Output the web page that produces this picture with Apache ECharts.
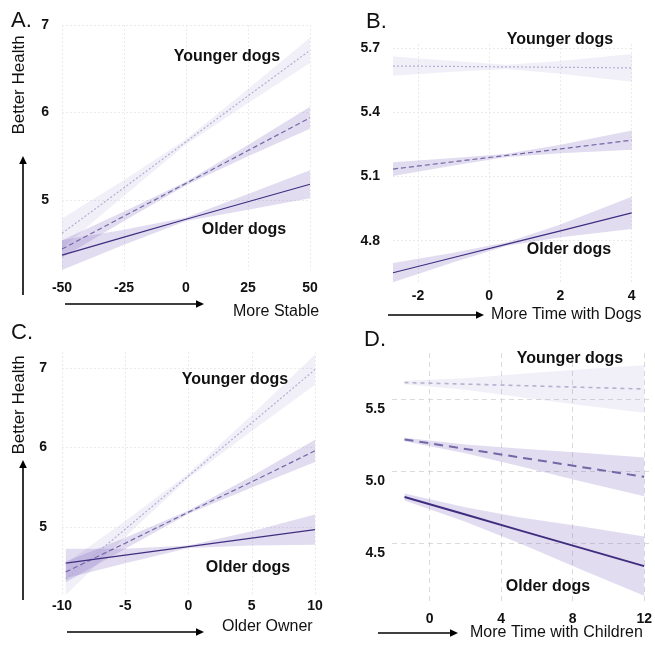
<!DOCTYPE html>
<html><head><meta charset="utf-8">
<script src="https://cdn.jsdelivr.net/npm/echarts@6/dist/echarts.min.js"></script>
<style>html,body{margin:0;padding:0;background:#fff}#c{width:655px;height:651px}</style>
</head><body><div id="c"></div>
<script>
// ---------- Panel A: More Stable ----------
const A_xTicks = [-50, -25, 0, 25, 50];
const A_yTicks = [5, 6, 7];
const A_x = [-50, -25, 0, 25, 50];
const A_young = [4.62, 5.14, 5.665, 6.19, 6.71];
const A_young_lo = [4.45, 5.05, 5.635, 6.11, 6.565];
const A_young_hi = [4.79, 5.23, 5.695, 6.27, 6.855];
const A_mid = [4.44, 4.815, 5.19, 5.565, 5.94];
const A_mid_lo = [4.34, 4.76, 5.17, 5.50, 5.815];
const A_mid_hi = [4.54, 4.87, 5.21, 5.63, 6.065];
const A_old = [4.37, 4.575, 4.78, 4.98, 5.18];
const A_old_lo = [4.20, 4.49, 4.76, 4.89, 5.02];
const A_old_hi = [4.54, 4.66, 4.80, 5.07, 5.34];

// ---------- Panel B: More Time with Dogs ----------
const B_xTicks = [-2, 0, 2, 4];
const B_yTicks = [4.8, 5.1, 5.4, 5.7];
const B_x = [-2.7, -1, 0.5, 2, 4];
const B_young = [5.617, 5.615, 5.613, 5.611, 5.608];
const B_young_lo = [5.572, 5.59, 5.603, 5.581, 5.543];
const B_young_hi = [5.662, 5.64, 5.623, 5.641, 5.673];
const B_mid = [5.135, 5.169, 5.199, 5.229, 5.27];
const B_mid_lo = [5.103, 5.151, 5.191, 5.209, 5.225];
const B_mid_hi = [5.167, 5.187, 5.207, 5.249, 5.315];
const B_old = [4.65, 4.721, 4.784, 4.846, 4.93];
const B_old_lo = [4.605, 4.699, 4.776, 4.816, 4.855];
const B_old_hi = [4.695, 4.743, 4.792, 4.876, 5.005];

// ---------- Panel C: Older Owner ----------
const C_xTicks = [-10, -5, 0, 5, 10];
const C_yTicks = [5, 6, 7];
const C_x = [-9.7, -5, 0, 5, 10];
const C_young = [4.35, 4.977, 5.645, 6.31, 6.98];
const C_young_lo = [4.15, 4.88, 5.615, 6.21, 6.79];
const C_young_hi = [4.55, 5.08, 5.675, 6.41, 7.17];
const C_mid = [4.44, 4.80, 5.19, 5.57, 5.96];
const C_mid_lo = [4.31, 4.73, 5.17, 5.50, 5.82];
const C_mid_hi = [4.57, 4.87, 5.21, 5.64, 6.10];
const C_old = [4.55, 4.65, 4.757, 4.864, 4.97];
const C_old_lo = [4.36, 4.55, 4.74, 4.77, 4.78];
const C_old_hi = [4.73, 4.73, 4.77, 4.95, 5.16];

// ---------- Panel D: More Time with Children ----------
const D_xTicks = [0, 4, 8, 12];
const D_yTicks = [4.5, 5.0, 5.5];
const D_x = [-1.4, 2, 5, 8.5, 12];
const D_young = [5.615, 5.604, 5.594, 5.582, 5.57];
const D_young_lo = [5.603, 5.564, 5.514, 5.457, 5.405];
const D_young_hi = [5.627, 5.644, 5.674, 5.707, 5.735];
const D_mid = [5.22, 5.154, 5.096, 5.028, 4.96];
const D_mid_lo = [5.208, 5.124, 5.036, 4.928, 4.825];
const D_mid_hi = [5.232, 5.184, 5.156, 5.128, 5.095];
const D_old = [4.82, 4.698, 4.59, 4.465, 4.34];
const D_old_lo = [4.795, 4.648, 4.50, 4.315, 4.135];
const D_old_hi = [4.845, 4.748, 4.68, 4.615, 4.545];

const FONT = '"Liberation Sans", Arial, Helvetica, sans-serif';
const C_OLD = '#3f2e80', C_MID = '#7467a6', C_YOUNG = '#b5aed3', C_YOUNG_D = '#b7b1cf';
const BAND_YOUNG = 'rgba(125,105,190,0.11)', BAND = 'rgba(125,105,190,0.23)';

const panels = [
  { grid: {left: 62, top: 25, width: 248, height: 245}, xMin: -50, xMax: 50, yMin: 4.2, yMax: 7.0,
    xTicks: A_xTicks, yTicks: A_yTicks, dec: 0, xm: 11, ym: 13, d: false,
    x: A_x, young: [A_young, A_young_lo, A_young_hi], mid: [A_mid, A_mid_lo, A_mid_hi], old: [A_old, A_old_lo, A_old_hi] },
  { grid: {left: 393, top: 44, width: 240.5, height: 239.4}, xMin: -2.7, xMax: 4.05, yMin: 4.6, yMax: 5.72,
    xTicks: B_xTicks, yTicks: B_yTicks, dec: 1, xm: 6, ym: 13, d: false,
    x: B_x, young: [B_young, B_young_lo, B_young_hi], mid: [B_mid, B_mid_lo, B_mid_hi], old: [B_old, B_old_lo, B_old_hi] },
  { grid: {left: 62, top: 352, width: 253, height: 243.8}, xMin: -10, xMax: 10, yMin: 4.14, yMax: 7.2,
    xTicks: C_xTicks, yTicks: C_yTicks, dec: 0, xm: 3, ym: 15, d: false,
    x: C_x, young: [C_young, C_young_lo, C_young_hi], mid: [C_mid, C_mid_lo, C_mid_hi], old: [C_old, C_old_lo, C_old_hi] },
  { grid: {left: 392, top: 353, width: 261, height: 252}, xMin: -2.1, xMax: 12.45, yMin: 4.07, yMax: 5.82,
    xTicks: D_xTicks, yTicks: D_yTicks, dec: 1, xm: 7, ym: 7, d: true,
    x: D_x, young: [D_young, D_young_lo, D_young_hi], mid: [D_mid, D_mid_lo, D_mid_hi], old: [D_old, D_old_lo, D_old_hi] }
];

const grids = [], xAxes = [], yAxes = [], series = [];

function band(gi, xs, lo, hi, color) {
  return {
    type: 'custom', xAxisIndex: gi, yAxisIndex: gi, silent: true, z: 1,
    data: [[xs[0], lo[0]]],
    renderItem: function (params, api) {
      const pts = [];
      for (let i = 0; i < xs.length; i++) pts.push(api.coord([xs[i], hi[i]]));
      for (let i = xs.length - 1; i >= 0; i--) pts.push(api.coord([xs[i], lo[i]]));
      return { type: 'polygon', shape: { points: pts }, style: { fill: color } };
    }
  };
}
function line(gi, xs, ys, color, width, dash, z) {
  return {
    type: 'line', xAxisIndex: gi, yAxisIndex: gi, silent: true, z: z,
    data: xs.map((x, i) => [x, ys[i]]), showSymbol: false, symbol: 'none',
    lineStyle: { color: color, width: width, type: dash }, animation: false
  };
}

panels.forEach((p, gi) => {
  grids.push(Object.assign({ containLabel: false }, p.grid));
  const gridLine = p.d
    ? { show: true, lineStyle: { color: '#dadada', width: 1, type: [5, 4] } }
    : { show: true, lineStyle: { color: '#ebebeb', width: 1, type: [2, 2] } };
  xAxes.push({
    type: 'value', gridIndex: gi, min: p.xMin, max: p.xMax,
    axisLine: { show: false },
    axisTick: { show: false, customValues: p.xTicks },
    axisLabel: { customValues: p.xTicks, margin: p.xm, fontFamily: FONT, fontSize: 14, fontWeight: 'bold', color: '#111' },
    splitLine: gridLine
  });
  const yl = { customValues: p.yTicks, margin: p.ym, fontFamily: FONT, fontSize: 14, fontWeight: 'bold', color: '#111',
    formatter: v => Number(v).toFixed(p.dec) };
  if (p.d) { yl.verticalAlign = 'top'; yl.padding = [3, 0, 0, 0]; }
  yAxes.push({
    type: 'value', gridIndex: gi, min: p.yMin, max: p.yMax,
    axisLine: { show: false },
    axisTick: { show: false, customValues: p.yTicks },
    axisLabel: yl,
    splitLine: gridLine
  });
  series.push(band(gi, p.x, p.young[1], p.young[2], BAND_YOUNG));
  series.push(band(gi, p.x, p.mid[1], p.mid[2], BAND));
  series.push(band(gi, p.x, p.old[1], p.old[2], BAND));
  if (p.d) {
    series.push(line(gi, p.x, p.young[0], C_YOUNG_D, 1.6, [4, 4], 3));
    series.push(line(gi, p.x, p.mid[0], C_MID, 2, [9, 6], 4));
    series.push(line(gi, p.x, p.old[0], C_OLD, 2, 'solid', 5));
  } else {
    series.push(line(gi, p.x, p.young[0], C_YOUNG, 1.2, [2, 2], 3));
    series.push(line(gi, p.x, p.mid[0], C_MID, 1.2, [5, 3], 4));
    series.push(line(gi, p.x, p.old[0], C_OLD, 1.2, 'solid', 5));
  }
});

function txt(x, y, text, size, opts) {
  opts = opts || {};
  return {
    type: 'text', x: x, y: y, rotation: opts.rot || 0, z: 10,
    style: { text: text, x: 0, y: 0, fill: '#111', font: (opts.bold ? 'bold ' : '') + size + 'px ' + FONT,
      align: opts.align || 'left', verticalAlign: 'middle', textAlign: opts.align || 'left', textVerticalAlign: 'middle' }
  };
}
function arrow(x1, y1, x2, y2) {
  const els = [];
  const horiz = y1 === y2;
  const L = 8, W = 3.8;
  if (horiz) {
    els.push({ type: 'line', shape: { x1: x1, y1: y1, x2: x2 - L, y2: y2 }, style: { stroke: '#000', lineWidth: 1.6 } });
    els.push({ type: 'polygon', shape: { points: [[x2, y2], [x2 - L, y2 - W], [x2 - L, y2 + W]] }, style: { fill: '#000' } });
  } else {
    els.push({ type: 'line', shape: { x1: x1, y1: y1, x2: x2, y2: y2 + L }, style: { stroke: '#000', lineWidth: 1.6 } });
    els.push({ type: 'polygon', shape: { points: [[x2, y2], [x2 - W, y2 + L], [x2 + W, y2 + L]] }, style: { fill: '#000' } });
  }
  return { type: 'group', z: 10, children: els };
}

const graphic = [
  txt(11, 21, 'A.', 22), txt(366, 22, 'B.', 22), txt(11, 333, 'C.', 22), txt(364, 340, 'D.', 22),
  txt(19, 85, 'Better Health', 17, { rot: Math.PI / 2, align: 'center' }),
  txt(19, 405, 'Better Health', 17, { rot: Math.PI / 2, align: 'center' }),
  arrow(23, 295, 23, 156), arrow(23, 600, 23, 460),
  arrow(65, 304, 204, 304), arrow(388, 315, 484, 315), arrow(67, 632, 204, 632), arrow(378, 633, 458, 633),
  txt(233, 312, 'More Stable', 16), txt(491, 315, 'More Time with Dogs', 16),
  txt(222, 627, 'Older Owner', 16), txt(470, 633, 'More Time with Children', 16),
  txt(227, 57, 'Younger dogs', 16, { bold: true, align: 'center' }),
  txt(244, 230, 'Older dogs', 16, { bold: true, align: 'center' }),
  txt(560, 40, 'Younger dogs', 16, { bold: true, align: 'center' }),
  txt(569, 250, 'Older dogs', 16, { bold: true, align: 'center' }),
  txt(235, 380, 'Younger dogs', 16, { bold: true, align: 'center' }),
  txt(248, 568, 'Older dogs', 16, { bold: true, align: 'center' }),
  txt(570, 359, 'Younger dogs', 16, { bold: true, align: 'center' }),
  txt(548, 587, 'Older dogs', 16, { bold: true, align: 'center' })
];

const chart = echarts.init(document.getElementById('c'), null, { renderer: 'canvas' });
chart.setOption({
  animation: false,
  backgroundColor: '#fff',
  grid: grids, xAxis: xAxes, yAxis: yAxes, series: series, graphic: graphic
});
</script></body></html>
